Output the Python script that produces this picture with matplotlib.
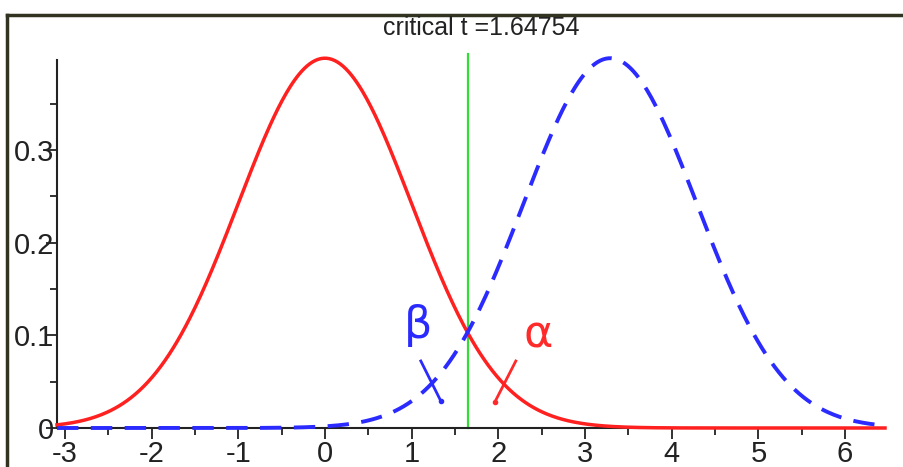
import numpy as np
import matplotlib
matplotlib.use("Agg")
import matplotlib.pyplot as plt
from matplotlib.lines import Line2D

# parameters
null_mean = 0.0
alt_mean = 3.29
sd = 1.0
critical_t = 1.64754
x_min, x_max = -3.09, 6.46
x_major = [-3, -2, -1, 0, 1, 2, 3, 4, 5, 6]
y_major = [0, 0.1, 0.2, 0.3]
y_labels = ["0", "0.1", "0.2", "0.3"]

plt.rcParams['font.family'] = ["Liberation Sans", "DejaVu Sans"]
plt.rcParams['axes.unicode_minus'] = False

x = np.linspace(x_min, x_max, 600)
def pdf(v, m, s):
    return np.exp(-0.5 * ((v - m) / s) ** 2) / (s * np.sqrt(2 * np.pi))

fig = plt.figure(figsize=(9.04, 4.67), dpi=100)
ax = fig.add_axes([57/904, 39/467, 828/904, 368/467])

ax.plot(x, pdf(x, null_mean, sd), color="#ff2020", lw=2.5, clip_on=False, zorder=3)
ax.plot(x, pdf(x, alt_mean, sd), color="#2b2bff", lw=2.8, ls=(0, (5.5, 3.2)), clip_on=False, zorder=3)
ax.plot([critical_t, critical_t], [0, 0.403], color="#33dd33", lw=1.6, clip_on=False, zorder=2)

ax.set_xlim(x_min, x_max)
ax.set_ylim(0, 0.397)

for s in ["top", "right"]:
    ax.spines[s].set_visible(False)
for s in ["left", "bottom"]:
    ax.spines[s].set_color("#222222")
    ax.spines[s].set_linewidth(1.5)

ax.set_xticks(x_major)
ax.set_xticklabels([str(v) for v in x_major])
ax.set_xticks(np.arange(-3, 6.5, 0.5), minor=True)
ax.set_yticks(y_major)
ax.set_yticklabels(y_labels)
ax.set_yticks(np.arange(0.05, 0.4, 0.1), minor=True)
ax.tick_params(axis="x", which="major", direction="out", length=8, width=1.3, labelsize=21, pad=1, colors="#222222")
ax.tick_params(axis="x", which="minor", direction="out", length=5, width=1.3, colors="#222222")
ax.tick_params(axis="y", which="major", direction="out", length=8, width=1.3, labelsize=21, pad=-6, colors="#222222")
ax.tick_params(axis="y", which="minor", direction="out", length=5, width=1.3, colors="#222222")

# annotations
ax.text(1.07, 0.111, "β", color="#2a2aff", fontsize=32, ha="center", va="center", family="DejaVu Sans")
ax.text(2.455, 0.100, "α", color="#ff2a2a", fontsize=32, ha="center", va="center", family="DejaVu Sans")
ax.plot([1.106, 1.337], [0.0723, 0.0291], color="#2a2aff", lw=2)
ax.plot([1.337], [0.0291], "o", color="#2a2aff", ms=3)
ax.plot([2.202, 1.960], [0.0723, 0.028], color="#ff2a2a", lw=2)
ax.plot([1.960], [0.028], "o", color="#ff2a2a", ms=3)

fig.text(481/904, 1 - 28/467, "critical t =1.64754", ha="center", va="center", fontsize=18, color="#222222")

# figure frame
fig.add_artist(Line2D([7/904, 1], [1 - 15/467, 1 - 15/467], color="#333322", lw=2.5, transform=fig.transFigure))
fig.add_artist(Line2D([7/904, 7/904], [0, 1 - 15/467], color="#333322", lw=2.5, transform=fig.transFigure))

fig.savefig("out.png", dpi=100)
